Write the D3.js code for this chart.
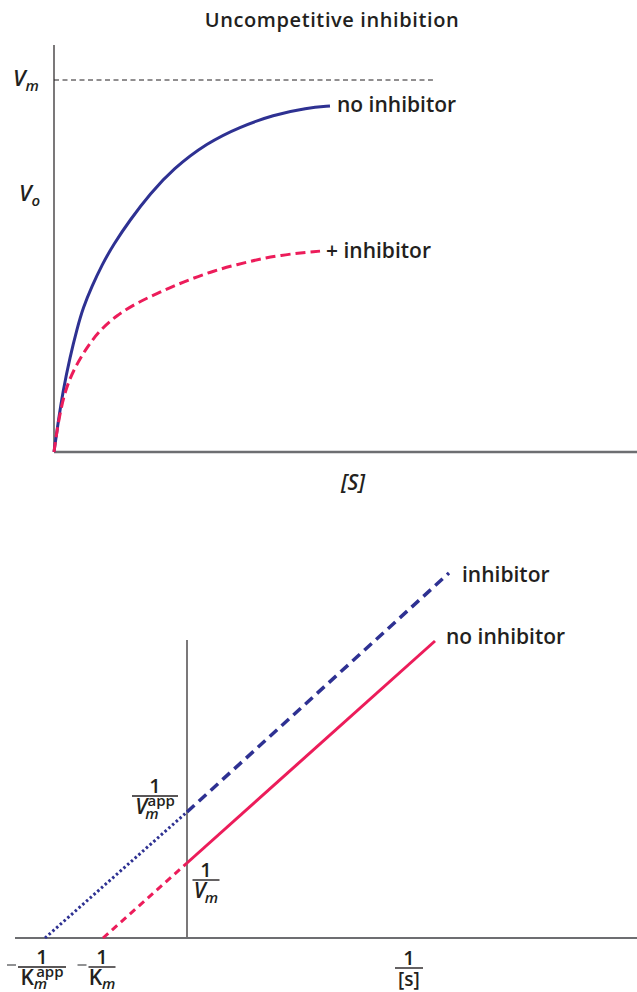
<!DOCTYPE html>
<html>
<head>
<meta charset="utf-8">
<script src="https://cdn.jsdelivr.net/npm/d3@7"></script>
<style>
  body { margin: 0; background: #fff; }
  svg { display: block; }
  text { font-family: "Open Sans", sans-serif; fill: #231f20; }
</style>
</head>
<body>
<div id="chart"></div>
<script>
// ---- top panel: V0 vs [S] (Vm = 1) ----
var noInhS = [0, 0.069, 0.154, 0.274, 0.395, 0.497, 0.652, 0.823, 1.012, 1.304, 1.647, 2.041, 2.624, 3.190, 3.756, 4.340, 4.734];
var noInhV = [0, 0.078, 0.164, 0.255, 0.331, 0.387, 0.446, 0.503, 0.556, 0.624, 0.694, 0.761, 0.831, 0.874, 0.906, 0.925, 0.930];
var inhS   = [0, 0.069, 0.189, 0.360, 0.566, 0.789, 1.081, 1.424, 1.818, 2.213, 2.727, 3.310, 3.876, 4.563];
var inhV   = [0, 0.078, 0.167, 0.228, 0.282, 0.328, 0.368, 0.401, 0.430, 0.457, 0.487, 0.511, 0.530, 0.540];
var VM = 1, VM_LINE_END = 6.5;

// ---- bottom panel: Lineweaver-Burk, [x-intercept, y-intercept, end] ----
var lbInhX = [-1.42, 0, 2.62];
var lbInhY = [0, 1.26, 3.65];
var lbNoX  = [-0.84, 0, 2.48];
var lbNoY  = [0, 0.75, 2.97];

var BLUE = '#2e3192', RED = '#ec1c5a', AXIS_GRAY = '#6d6e71';
var W = 637, H = 992;

var svg = d3.select('#chart').append('svg').attr('width', W).attr('height', H);

// ================= top panel =================
var xTop = d3.scaleLinear().domain([0, 10]).range([54, 637]);
var yTop = d3.scaleLinear().domain([0, 1]).range([452, 80]);

svg.append('text').attr('x', 332).attr('y', 27).attr('text-anchor', 'middle')
  .attr('font-size', 20).attr('font-weight', 600).attr('letter-spacing', 0.6)
  .text('Uncompetitive inhibition');

// axes
svg.append('line').attr('x1', xTop(0)).attr('x2', xTop(0)).attr('y1', 45).attr('y2', yTop(0))
  .attr('stroke', '#231f20').attr('stroke-width', 1.2);
svg.append('line').attr('x1', xTop(0)).attr('x2', W).attr('y1', yTop(0)).attr('y2', yTop(0))
  .attr('stroke', AXIS_GRAY).attr('stroke-width', 2.5);

// Vm dashed reference
svg.append('line').attr('x1', xTop(0)).attr('x2', xTop(VM_LINE_END)).attr('y1', yTop(VM)).attr('y2', yTop(VM))
  .attr('stroke', '#231f20').attr('stroke-width', 1).attr('stroke-dasharray', '5,3.5');

var topLine = d3.line()
  .x(function (d) { return xTop(d[0]); })
  .y(function (d) { return yTop(d[1]); })
  .curve(d3.curveBasis);

svg.append('path').datum(d3.zip(noInhS, noInhV)).attr('d', topLine)
  .attr('fill', 'none').attr('stroke', BLUE).attr('stroke-width', 3);
svg.append('path').datum(d3.zip(inhS, inhV)).attr('d', topLine)
  .attr('fill', 'none').attr('stroke', RED).attr('stroke-width', 3)
  .attr('stroke-dasharray', '10,5');

svg.append('text').attr('x', 337).attr('y', 112).attr('font-size', 21).attr('font-weight', 600)
  .text('no inhibitor');
svg.append('text').attr('x', 326).attr('y', 258).attr('font-size', 21).attr('font-weight', 600)
  .text('+ inhibitor');

// Vm and Vo labels
function subLabel(x, y, main, sub) {
  var t = svg.append('text').attr('x', x).attr('y', y).attr('font-size', 22)
    .attr('font-style', 'italic').attr('font-weight', 600);
  t.append('tspan').text(main);
  t.append('tspan').attr('font-size', 15).attr('dy', 5).text(sub);
  return t;
}
subLabel(13, 86, 'V', 'm');
subLabel(19, 201, 'V', 'o');

svg.append('text').attr('x', 353).attr('y', 490).attr('text-anchor', 'middle')
  .attr('font-size', 21).attr('font-style', 'italic').attr('font-weight', 600).text('[S]');

// ================= bottom panel =================
var xLB = d3.scaleLinear().domain([-1.72, 4.5]).range([15, 637]);
var yLB = d3.scaleLinear().domain([0, 3]).range([938, 638]);

svg.append('line').attr('x1', xLB(0)).attr('x2', xLB(0)).attr('y1', 640).attr('y2', yLB(0))
  .attr('stroke', '#231f20').attr('stroke-width', 1.2);
svg.append('line').attr('x1', 15).attr('x2', W).attr('y1', yLB(0)).attr('y2', yLB(0))
  .attr('stroke', AXIS_GRAY).attr('stroke-width', 2);

function lbSeg(xs, ys, i, color, dash, width) {
  svg.append('line')
    .attr('x1', xLB(xs[i])).attr('y1', yLB(ys[i]))
    .attr('x2', xLB(xs[i + 1])).attr('y2', yLB(ys[i + 1]))
    .attr('stroke', color).attr('stroke-width', width)
    .attr('stroke-dasharray', dash);
}
// extrapolated parts
lbSeg(lbInhX, lbInhY, 0, BLUE, '2.5,2.5', 3);
lbSeg(lbNoX, lbNoY, 0, RED, '7,5', 3);
// measured parts
lbSeg(lbInhX, lbInhY, 1, BLUE, '10,6', 3.5);
lbSeg(lbNoX, lbNoY, 1, RED, null, 3);

svg.append('text').attr('x', 462).attr('y', 582).attr('font-size', 21).attr('font-weight', 600)
  .text('inhibitor');
svg.append('text').attr('x', 446).attr('y', 644).attr('font-size', 21).attr('font-weight', 600)
  .text('no inhibitor');

// fractions: "1" over a denominator built from parts
function fraction(cx, barY, barW, parts, minus) {
  var g = svg.append('g');
  g.append('text').attr('x', cx).attr('y', barY - 3).attr('text-anchor', 'middle')
    .attr('font-size', 20).attr('font-weight', 600).text('1');
  g.append('line').attr('x1', cx - barW / 2).attr('x2', cx + barW / 2)
    .attr('y1', barY).attr('y2', barY).attr('stroke', '#231f20').attr('stroke-width', 1.4);
  var t = g.append('text').attr('x', cx).attr('y', barY + 18).attr('text-anchor', 'middle')
    .attr('font-weight', 600);
  parts.forEach(function (p) {
    var s = t.append('tspan').text(p.t).attr('font-size', p.size || 21);
    if (p.italic) s.attr('font-style', 'italic');
    if (p.dy) s.attr('dy', p.dy);
    if (p.dx) s.attr('dx', p.dx);
  });
  if (minus) {
    g.append('line').attr('x1', cx - barW / 2 - 11).attr('x2', cx - barW / 2 - 2)
      .attr('y1', barY - 2).attr('y2', barY - 2).attr('stroke', AXIS_GRAY).attr('stroke-width', 1.5);
  }
  return g;
}

fraction(155, 796, 46, [
  { t: 'V', italic: true },
  { t: 'm', italic: true, size: 15, dy: 5, dx: -2 },
  { t: 'app', size: 15, dy: -13, dx: -11 }
]);
fraction(206, 880, 27, [
  { t: 'V', italic: true },
  { t: 'm', italic: true, size: 15, dy: 5, dx: -1 }
]);
fraction(42, 967, 48, [
  { t: 'K' },
  { t: 'm', italic: true, size: 15, dy: 4 },
  { t: 'app', size: 15, dy: -12, dx: -11 }
], true);
fraction(102, 967, 27, [
  { t: 'K' },
  { t: 'm', italic: true, size: 15, dy: 4 }
], true);
fraction(409, 968, 28, [
  { t: '[s]', size: 19 }
]);
</script>
</body>
</html>
